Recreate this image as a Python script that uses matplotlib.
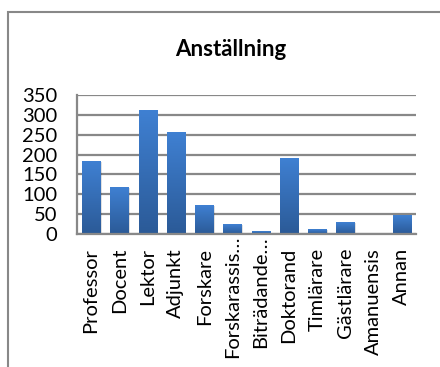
import numpy as np
import matplotlib.pyplot as plt
from matplotlib.patches import Rectangle
from matplotlib.colors import LinearSegmentedColormap
from matplotlib.transforms import ScaledTranslation

# antal per anställningsform
categories = ['Professor', 'Docent', 'Lektor', 'Adjunkt', 'Forskare',
              'Forskarassis…', 'Biträdande…', 'Doktorand', 'Timlärare',
              'Gästlärare', 'Amanuensis', 'Annan']
counts = [182, 118, 312, 256, 73, 25, 7, 190, 12, 30, 0, 46]
yticks = [0, 50, 100, 150, 200, 250, 300, 350]

plt.rcParams['font.family'] = ['Lato', 'DejaVu Sans']

W, H = 440, 367
fig = plt.figure(figsize=(W / 100, H / 100), dpi=100)

# chart frame (runs off the right and bottom edges)
fig.patches.append(Rectangle((8 / W, -0.1), 1.2, 1 - 12 / H + 0.1,
                             transform=fig.transFigure, fill=False,
                             edgecolor='#888888', linewidth=1.5))

fig.text(231 / W, 1 - 50 / H, 'Anställning', ha='center', va='center',
         fontsize=16, fontweight='bold')

ax = fig.add_axes([77 / W, 1 - 234 / H, (416 - 77) / W, (234 - 95) / H])

x = np.arange(len(categories))
width = 0.64
bars = ax.bar(x, counts, width=width, color='none', zorder=3)

# vertical gradient fill, lighter at the top
cmap = LinearSegmentedColormap.from_list('bar', ['#2b5a97', '#3f80d2'])
grad = np.linspace(0, 1, 100).reshape(-1, 1)
for b in bars:
    h = b.get_height()
    if h <= 0:
        continue
    x0 = b.get_x()
    # soft shadow
    ax.add_patch(Rectangle((x0 + 0.05, 0), width, h - 1.5, facecolor='#000000',
                           alpha=0.12, linewidth=0, zorder=2))
    ax.imshow(grad, extent=(x0, x0 + width, 0, h), origin='lower',
              cmap=cmap, aspect='auto', zorder=3, interpolation='bilinear')

ax.set_xlim(-0.5, len(categories) - 0.5)
ax.set_ylim(0, 350)
ax.set_yticks(yticks)
ax.set_xticks(x)
ax.set_xticklabels(categories, rotation=90, fontsize=14.5)
ax.tick_params(axis='y', length=0, pad=14, labelsize=14.5)
ax.tick_params(axis='x', length=0, pad=10)
ax.grid(axis='y', color='#888888', linewidth=1.6, zorder=1)
ax.set_axisbelow(True)
for s in ['top', 'right']:
    ax.spines[s].set_visible(False)
for s in ['left', 'bottom']:
    ax.spines[s].set_color('#888888')
    ax.spines[s].set_linewidth(1.6)
    ax.spines[s].set_zorder(4)

# the truncated labels sit a little higher
for lab in ax.get_xticklabels():
    if lab.get_text().endswith('…'):
        lab.set_transform(lab.get_transform() +
                          ScaledTranslation(0, 0.12, fig.dpi_scale_trans))

fig.savefig('out.png', dpi=100)
